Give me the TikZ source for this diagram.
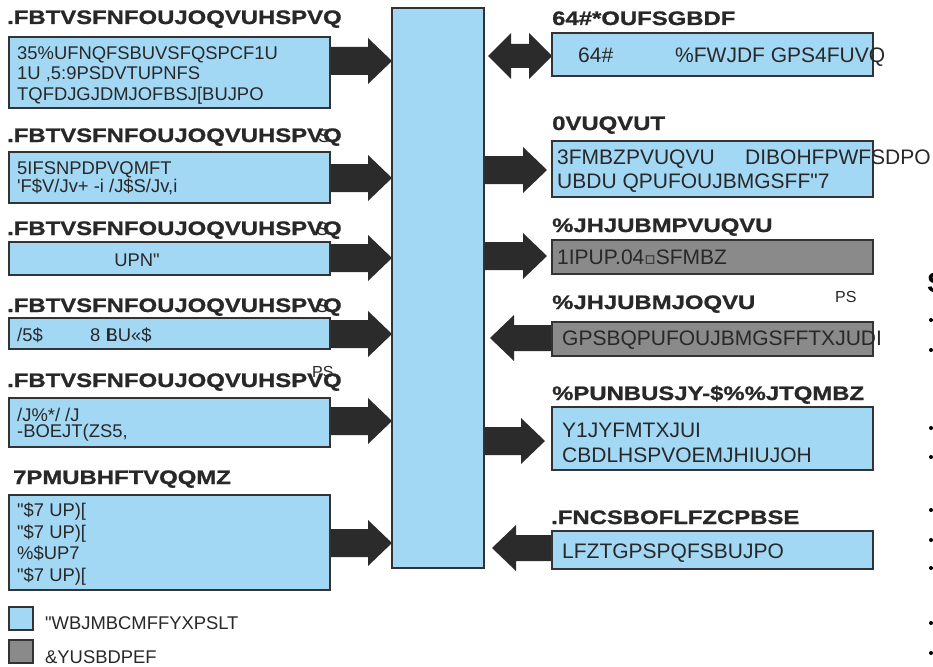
\documentclass[tikz,border=0pt]{standalone}
\usepackage{fontspec}
\setmainfont{Liberation Sans}[Ligatures=TeXOff]
\newfontfamily\hdfont{Liberation Sans}[FakeStretch=1.225,FakeBold=1,Ligatures=TeXOff]
\newfontfamily\djv{DejaVu Sans}
\usetikzlibrary{calc}
\definecolor{boxblue}{RGB}{163,216,245}
\definecolor{boxgray}{RGB}{138,138,138}
\definecolor{edgec}{RGB}{51,51,51}
\definecolor{arrc}{RGB}{43,43,43}
\definecolor{txtc}{RGB}{40,40,40}
\tikzset{
  blk/.style={draw=edgec, line width=1.5pt, fill=boxblue, inner sep=0pt, outer sep=0pt, anchor=north west},
  gblk/.style={blk, fill=boxgray},
  hdr/.style={font=\hdfont\bfseries\fontsize{19.5pt}{22pt}\selectfont, text=txtc, inner sep=0pt, anchor=base west},
  txt/.style={font=\fontsize{18.4pt}{21pt}\selectfont, text=txtc, inner sep=0pt, anchor=base west},
  rtxt/.style={font=\fontsize{21pt}{24pt}\selectfont, text=txtc, inner sep=0pt, anchor=base west},
  smalltxt/.style={font=\fontsize{16pt}{18pt}\selectfont, text=txtc, inner sep=0pt, anchor=base west},
  arrfill/.style={fill=arrc},
  bul/.style={circle, fill=black, inner sep=0pt, minimum size=4pt}
}
% right-pointing block arrow: #1 tail node (east), #2 tip node (west), #3 y, #4 tip offset
\newcommand\arrR[4]{\fill[arrfill] let \p1=(#1.east), \p2=(#2.west) in
  (\x1,-#3pt+14pt) -- (\x2-#4pt-24pt,-#3pt+14pt) -- (\x2-#4pt-24pt,-#3pt+23pt) -- (\x2-#4pt,-#3pt)
  -- (\x2-#4pt-24pt,-#3pt-23pt) -- (\x2-#4pt-24pt,-#3pt-14pt) -- (\x1,-#3pt-14pt) -- cycle;}
% left-pointing block arrow: #1 tail node (west), #2 tip node (east), #3 y, #4 tip offset
\newcommand\arrL[4]{\fill[arrfill] let \p1=(#1.west), \p2=(#2.east) in
  (\x1,-#3pt+13pt) -- (\x2+#4pt+24pt,-#3pt+13pt) -- (\x2+#4pt+24pt,-#3pt+23pt) -- (\x2+#4pt,-#3pt)
  -- (\x2+#4pt+24pt,-#3pt-23pt) -- (\x2+#4pt+24pt,-#3pt-13pt) -- (\x1,-#3pt-13pt) -- cycle;}
\begin{document}
\begin{tikzpicture}[x=1pt,y=-1pt]
\useasboundingbox (0,0) rectangle (933,666);
\fill[white] (0,0) rectangle (933,666);

% central column
\node[blk, minimum width=92pt, minimum height=560pt] (col) at (392,8) {};

% left boxes
\node[blk, minimum width=321pt, minimum height=71pt] (b1) at (9,37) {};
\node[blk, minimum width=321pt, minimum height=51pt] (b2) at (9,152) {};
\node[blk, minimum width=321pt, minimum height=33pt] (b3) at (9,242) {};
\node[blk, minimum width=321pt, minimum height=31pt] (b4) at (9,318) {};
\node[blk, minimum width=321pt, minimum height=49pt] (b5) at (9,398) {};
\node[blk, minimum width=321pt, minimum height=95pt] (b6) at (9,495) {};

% right boxes
\node[blk, minimum width=321pt, minimum height=43pt] (r1) at (552,33) {};
\node[blk, minimum width=321pt, minimum height=56pt] (r2) at (552,141) {};
\node[gblk, minimum width=321pt, minimum height=34pt] (r3) at (552,240) {};
\node[gblk, minimum width=321pt, minimum height=34pt] (r4) at (552,322) {};
\node[blk, minimum width=321pt, minimum height=63pt] (r5) at (552,407) {};
\node[blk, minimum width=321pt, minimum height=38pt] (r6) at (552,531) {};

% arrows left column -> center
\arrR{b1}{col}{61}{0}
\arrR{b2}{col}{178}{0}
\arrR{b3}{col}{258}{0}
\arrR{b4}{col}{334}{0}
\arrR{b5}{col}{421}{0}
\arrR{b6}{col}{543}{0}
% arrows center -> right
\arrR{col}{r2}{170}{5}
\arrR{col}{r3}{256}{5}
\arrR{col}{r5}{441}{7}
% arrows right -> center
\arrL{r4}{col}{338}{6}
\arrL{r6}{col}{548}{8}
% double arrow
\fill[arrfill] let \p1=(col.east), \p2=(r1.west) in
  (\x1+4pt,-56pt) -- (\x1+27pt,-33pt) -- (\x1+27pt,-44pt) -- (\x2-23pt,-44pt) -- (\x2-23pt,-33pt)
  -- (\x2,-56pt) -- (\x2-23pt,-79pt) -- (\x2-23pt,-68pt) -- (\x1+27pt,-68pt) -- (\x1+27pt,-79pt) -- cycle;

% redraw box borders over arrows
\foreach \n in {b1,b2,b3,b4,b5,b6,r1,r2,r3,r4,r5,r6,col}{\draw[edgec, line width=1.5pt] (\n.north west) rectangle (\n.south east);}

% left headers
\node[hdr] (h1) at (7,24) {.FBTVSFNFOUJOQVUHSPVQ};
\node[hdr] (h2) at (7,142) {.FBTVSFNFOUJOQVUHSPVQ};
\node[txt] (h2o) at (318,142) {S};
\node[hdr] (h3) at (7,235) {.FBTVSFNFOUJOQVUHSPVQ};
\node[txt] (h3o) at (316,235) {S};
\node[hdr] (h4) at (7,312) {.FBTVSFNFOUJOQVUHSPVQ};
\node[txt] (h4o) at (316,312) {S};
\node[hdr] (h5) at (7,387) {.FBTVSFNFOUJOQVUHSPVQ};
\node[smalltxt] (h5o) at (312,377) {PS};
\node[hdr] (h6) at (13,484) {7PMUBHFTVQQMZ};

% left box texts
\node[txt] (t11) at (17,59.5) {35\%UFNQFSBUVSFQSPCF1U};
\node[txt] (t12) at (17,80) {1U ,5:9PSDVTUPNFS};
\node[txt] (t13) at (17,101) {TQFDJGJDMJOFBSJ[BUJPO};
\node[txt] (t21) at (17,174.5) {5IFSNPDPVQMFT};
\node[txt] (t22) at (17,192.5) {'F\$V/Jv+ -i /J\$S/Jv,i};
\node[txt, anchor=base] (t31) at (137,266.5) {UPN"};
\node[txt] (t41) at (17,341) {/5\$};
\node[txt] (t42) at (90,341) {8 \rlap{\hspace{1pt}L}BU«\$};
\node[txt] (t51) at (17,421) {/J\%*/ /J};
\node[txt] (t52) at (17,437) {-BOEJT(ZS5,};
\node[txt] (t61) at (17,516.5) {"\$7 UP)[};
\node[txt] (t62) at (17,538.5) {"\$7 UP)[};
\node[txt] (t63) at (17,559.5) {\%\$UP7};
\node[txt] (t64) at (17,581.5) {"\$7 UP)[};

% legend
\node[blk, minimum width=24pt, minimum height=23pt] (lg1) at (9,607) {};
\node[txt] (lt1) at (45,629.5) {"WBJMBCMFFYXPSLT};
\node[gblk, minimum width=24pt, minimum height=23pt] (lg2) at (9,640) {};
\node[txt] (lt2) at (45,663) {\&YUSBDPEF};

% right headers
\node[hdr] (rh1) at (552,25) {64\#*OUFSGBDF};
\node[hdr] (rh2) at (552,130) {0VUQVUT};
\node[hdr] (rh3) at (552,232) {\%JHJUBMPVUQVU};
\node[hdr] (rh4) at (552,309) {\%JHJUBMJOQVU};
\node[smalltxt] (rh4o) at (835,302) {PS};
\node[hdr] (rh5) at (552,400) {\%PUNBUSJY-\$\%\%JTQMBZ};
\node[hdr] (rh6) at (551,524) {.FNCSBOFLFZCPBSE};

% right box texts
\node[rtxt] (s11) at (578,62.5) {64\#};
\node[rtxt] (s12) at (675,62.5) {\%FWJDF GPS4FUVQ};
\node[rtxt] (s21) at (557,164.5) {3FMBZPVUQVU};
\node[rtxt] (s22) at (745,164.5) {DIBOHFPWFSDPO};
\node[rtxt] (s23) at (557,188.5) {UBDU QPUFOUJBMGSFF"7};
\node[rtxt] (s31) at (557,264.5) {1IPUP.04{\djv\fontsize{17pt}{18pt}\selectfont ▫}SFMBZ};
\node[rtxt] (s41) at (562,345.5) {GPSBQPUFOUJBMGSFFTXJUDI};
\node[rtxt] (s51) at (562,437.5) {Y1JYFMTXJUI};
\node[rtxt] (s52) at (562,462.5) {CBDLHSPVOEMJHIUJOH};
\node[rtxt] (s61) at (562,558.5) {LFZTGPSPQFSBUJPO};

% far right partial text
\node[font=\bfseries\fontsize{28pt}{30pt}\selectfont, text=black, inner sep=0pt, anchor=base west] (sr) at (927,292) {S};
\foreach \yy [count=\i] in {320,350,428,457,510,540,568,623,653}{\node[bul] (bu\i) at (931,\yy) {};}
\end{tikzpicture}
\end{document}
